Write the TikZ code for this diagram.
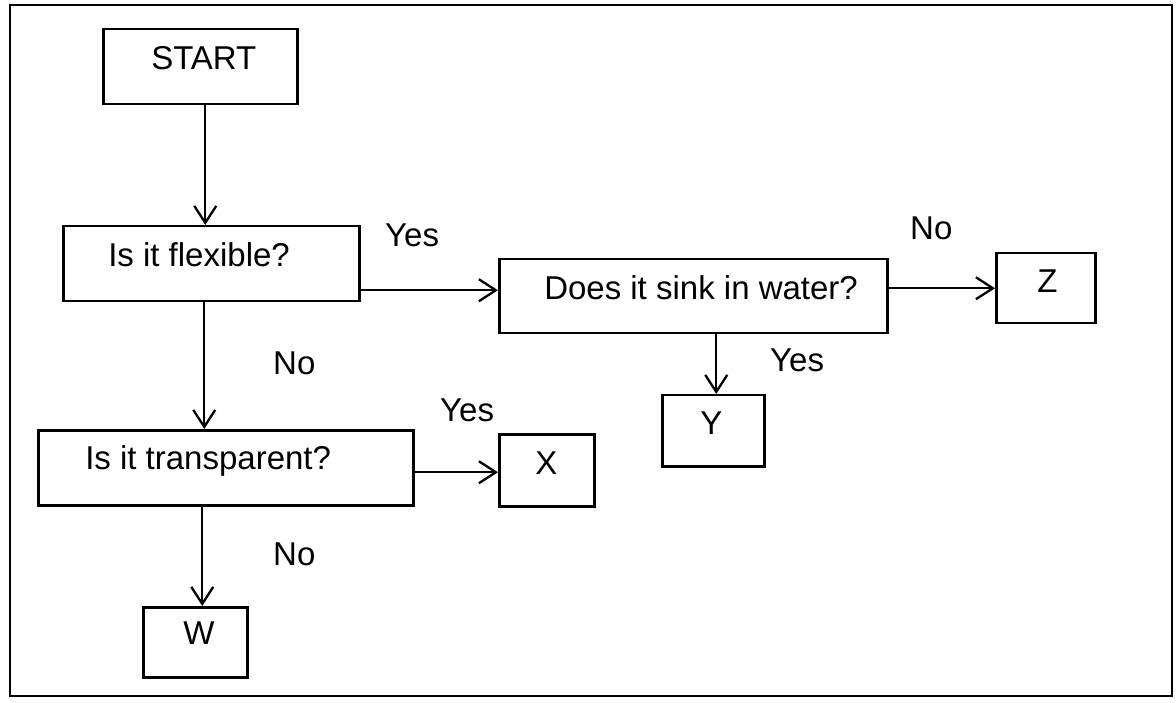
\documentclass[tikz,border=0pt]{standalone}
\usepackage{fontspec}
\setmainfont{Liberation Sans}
\usetikzlibrary{arrows.meta}
\newcommand\flowfont{\fontsize{33}{39}\selectfont}
\begin{document}
\begin{tikzpicture}[x=1pt,y=-1pt,
  fbox/.style={draw, line width=2.5pt, inner sep=0pt, anchor=north west, font=\flowfont},
  lbl/.style={inner sep=0pt, anchor=base west, font=\flowfont},
  arr/.style={line width=2.3pt, -{Straight Barb[length=17pt,width=22pt]}}]
\useasboundingbox (0,0) rectangle (1176,703);
\fill[white] (0,0) rectangle (1176,703);
\draw[line width=2.8pt] (10,5) rectangle (1172,696);

% boxes: left L, top T, width W, text height = baseline - T, text depth = B - baseline
\node[fbox, text height=40pt, text depth=35pt] (start) at (102,28)
  {\makebox[194pt][l]{\hspace*{48pt}START}};
\node[fbox, text height=40pt, text depth=35pt] (flex) at (62,225)
  {\makebox[296pt][l]{\hspace*{45pt}Is it flexible?}};
\node[fbox, text height=40pt, text depth=34pt] (sink) at (498,258)
  {\makebox[388pt][l]{\hspace*{45pt}Does it sink in water?}};
\node[fbox, text height=39pt, text depth=31pt] (z) at (995,252)
  {\makebox[99pt][l]{\hspace*{41pt}Z}};
\node[fbox, text height=39pt, text depth=32pt] (y) at (661,394)
  {\makebox[102pt][l]{\hspace*{38pt}Y}};
\node[fbox, text height=39pt, text depth=36pt] (transp) at (37,429)
  {\makebox[375pt][l]{\hspace*{47pt}Is it transparent?}};
\node[fbox, text height=40pt, text depth=32pt] (x) at (498,433)
  {\makebox[95pt][l]{\hspace*{36pt}X}};
\node[fbox, text height=37pt, text depth=33pt] (w) at (142,606)
  {\makebox[104pt][l]{\hspace*{40pt}W}};

% labels
\node[lbl] (lyes1) at (385,247) {Yes};
\node[lbl] (lno1) at (910,240) {No};
\node[lbl] (lno2) at (273,375) {No};
\node[lbl] (lyes2) at (770,372) {Yes};
\node[lbl] (lyes3) at (440,421) {Yes};
\node[lbl] (lno3) at (273,565) {No};

% connectors
\draw[arr] ([xshift=5pt]start.south) -- ([xshift=5pt]start.south |- flex.north);
\draw[arr] ([xshift=-7pt]flex.south) -- ([xshift=-7pt]flex.south |- transp.north);
\draw[arr] ([xshift=-23.5pt]transp.south) -- ([xshift=-23.5pt]transp.south |- w.north);
\draw[arr] ([yshift=-26.5pt]flex.east) -- ([yshift=-26.5pt]flex.east -| sink.west);
\draw[arr] ([yshift=8pt]sink.east) -- ([yshift=8pt]sink.east -| z.west);
\draw[arr] ([xshift=23pt]sink.south) -- ([xshift=23pt]sink.south |- y.north);
\draw[arr] ([yshift=-4.5pt]transp.east) -- ([yshift=-4.5pt]transp.east -| x.west);
\end{tikzpicture}
\end{document}
